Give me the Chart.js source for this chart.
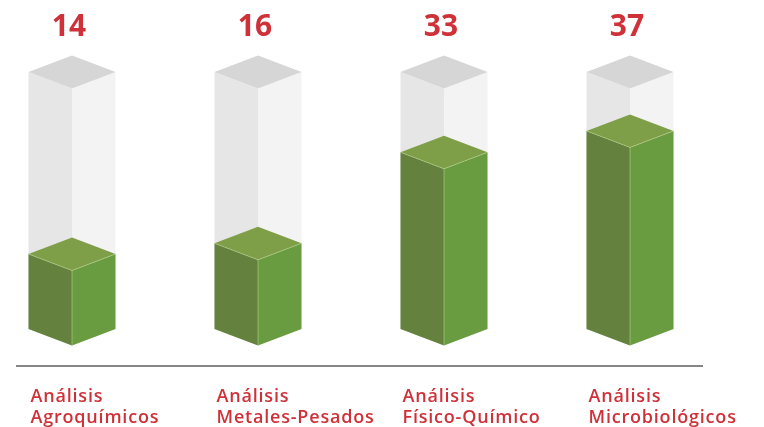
<!DOCTYPE html>
<html>
<head>
<meta charset="utf-8">
<script src="https://cdn.jsdelivr.net/npm/chart.js@4"></script>
<style>
  html, body { margin: 0; padding: 0; background: #ffffff; }
  #wrap { width: 764px; height: 427px; }
</style>
</head>
<body>
<div id="wrap"><canvas id="chart"></canvas></div>
<script>
// Number of analyses per laboratory area
const categories = [
  ['Análisis', 'Agroquímicos'],
  ['Análisis', 'Metales-Pesados'],
  ['Análisis', 'Físico-Químico'],
  ['Análisis', 'Microbiológicos']
];
const values = [14, 16, 33, 37];
const axisMax = 48;

// Isometric prism: front-left face, front-right face and top diamond
function drawPrism(ctx, cx, half, top, base, depth, colors, edge) {
  const l = cx - half, r = cx + half;
  ctx.fillStyle = colors.left;
  ctx.beginPath();
  ctx.moveTo(l, top); ctx.lineTo(cx, top + depth);
  ctx.lineTo(cx, base + depth); ctx.lineTo(l, base);
  ctx.closePath(); ctx.fill();

  ctx.fillStyle = colors.right;
  ctx.beginPath();
  ctx.moveTo(cx, top + depth); ctx.lineTo(r, top);
  ctx.lineTo(r, base); ctx.lineTo(cx, base + depth);
  ctx.closePath(); ctx.fill();

  ctx.fillStyle = colors.top;
  ctx.beginPath();
  ctx.moveTo(l, top); ctx.lineTo(cx, top - depth);
  ctx.lineTo(r, top); ctx.lineTo(cx, top + depth);
  ctx.closePath(); ctx.fill();

  if (edge) {
    ctx.strokeStyle = edge;
    ctx.lineWidth = 1;
    ctx.beginPath();
    ctx.moveTo(l, top); ctx.lineTo(cx, top + depth); ctx.lineTo(r, top);
    ctx.moveTo(cx, top + depth); ctx.lineTo(cx, base + depth);
    ctx.stroke();
  }
}

const cubePlugin = {
  id: 'cubes',
  afterDatasetsDraw(chart) {
    const ctx = chart.ctx;
    const yScale = chart.scales.y;
    const meta = chart.getDatasetMeta(0);
    const depth = 16.5;
    const grey = { left: '#e6e6e6', right: '#f3f3f3', top: '#d6d6d6' };
    const green = { left: '#64813d', right: '#699c40', top: '#7e9f47' };
    const fullTop = yScale.getPixelForValue(axisMax);

    ctx.save();
    meta.data.forEach((bar, i) => {
      const half = bar.width / 2;
      drawPrism(ctx, bar.x, half, fullTop, bar.base, depth, grey, null);
      drawPrism(ctx, bar.x, half, bar.y, bar.base, depth, green, 'rgba(190,215,150,0.55)');

      // value above the column
      ctx.fillStyle = '#cf3139';
      ctx.letterSpacing = '0px';
      ctx.font = 'bold 30px "Open Sans", sans-serif';
      ctx.textAlign = 'center';
      ctx.textBaseline = 'alphabetic';
      ctx.fillText(String(values[i]), bar.x - 3, 36);

      // category name below the baseline
      ctx.font = '600 18px "Open Sans", sans-serif';
      ctx.letterSpacing = '0.8px';
      ctx.textAlign = 'left';
      const lines = categories[i];
      lines.forEach((t, k) => {
        ctx.fillText(t, bar.x - half + 2, 402 + k * 21);
      });
    });

    // baseline rule
    const ruleY = yScale.getPixelForValue(0) + 37;
    ctx.strokeStyle = '#5e5e5e';
    ctx.lineWidth = 1.6;
    ctx.beginPath();
    ctx.moveTo(16, ruleY);
    ctx.lineTo(703, ruleY);
    ctx.stroke();
    ctx.restore();
  }
};

new Chart(document.getElementById('chart'), {
  type: 'bar',
  data: {
    labels: categories,
    datasets: [{
      data: values,
      backgroundColor: 'rgba(0,0,0,0)',
      borderWidth: 0,
      barThickness: 87
    }]
  },
  options: {
    responsive: true,
    maintainAspectRatio: false,
    animation: false,
    layout: { padding: { left: 72, right: 134, top: 72, bottom: 98 } },
    plugins: { legend: { display: false }, tooltip: { enabled: false } },
    scales: {
      x: { display: false, offset: false },
      y: { display: false, min: 0, max: axisMax }
    }
  },
  plugins: [cubePlugin]
});
</script>
</body>
</html>
